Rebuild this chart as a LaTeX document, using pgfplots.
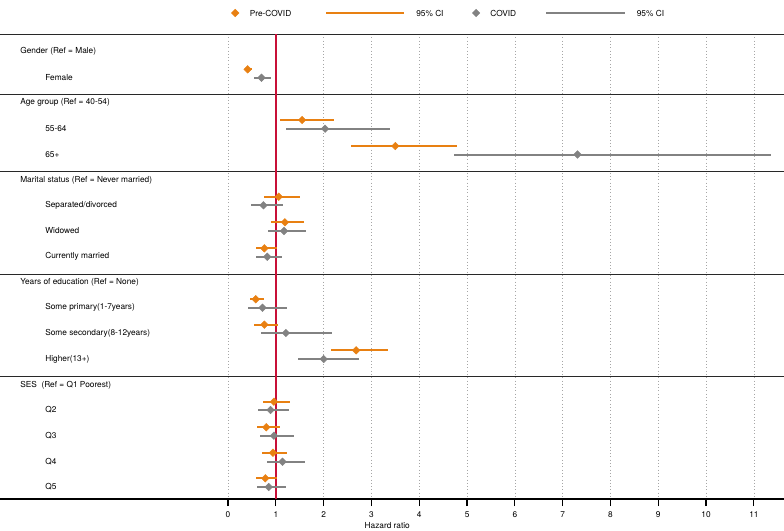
\documentclass[border=0pt]{standalone}
\usepackage{fontspec}
\setmainfont{TeX Gyre Heros}
\usepackage{pgfplots}
\pgfplotsset{compat=1.18}
\usepackage{pgfplotstable}

\definecolor{precol}{RGB}{232,128,18}
\definecolor{covcol}{RGB}{130,130,130}
\definecolor{refcol}{RGB}{200,16,56}
\definecolor{sepcol}{RGB}{40,40,40}

% row position (top-down), estimate, lower and upper 95% CI
\pgfplotstableread{
y     est  lo   hi
69.3  0.41 0.36 0.51
120.0 1.55 1.09 2.21
146.0 3.50 2.57 4.79
196.7 1.06 0.76 1.51
222.3 1.19 0.90 1.59
248.3 0.76 0.58 1.03
299.3 0.58 0.45 0.76
324.7 0.76 0.55 1.05
350.3 2.68 2.15 3.34
401.7 0.96 0.73 1.29
427.3 0.80 0.60 1.08
452.7 0.94 0.71 1.24
478.3 0.78 0.59 1.03
}\tblpre

\pgfplotstableread{
y     est  lo   hi
77.7  0.70 0.55 0.90
128.7 2.03 1.22 3.38
154.5 7.31 4.72 11.36
205.3 0.74 0.48 1.15
231.0 1.17 0.84 1.63
256.7 0.82 0.59 1.13
307.7 0.72 0.42 1.23
333.0 1.21 0.69 2.17
359.0 2.00 1.47 2.74
410.0 0.89 0.62 1.27
435.7 0.96 0.67 1.38
461.7 1.14 0.82 1.60
487.0 0.85 0.60 1.21
}\tblcov

\newcommand{\lblfont}{\fontsize{8.3}{10}\selectfont}
\pgfplotsset{
  dmark/.style={only marks, mark=square*, mark size=2.7pt,
    mark options={rotate=45, fill=#1, draw=#1}},
}

\begin{document}
\begin{tikzpicture}
\begin{axis}[
  name=ax,
  scale only axis,
  width=784pt, height=465pt,
  xmin=-4.77, xmax=11.63,
  ymin=34, ymax=499,
  y dir=reverse,
  clip=false,
  axis x line=bottom,
  axis y line=none,
  axis line style={-, black, line width=1.1pt},
  xtick={0,...,11},
  tick align=outside,
  major tick length=7pt,
  x tick style={black, line width=1.2pt},
  xticklabel style={font=\lblfont, yshift=-2.5pt},
  /pgf/number format/assume math mode=true,
  xmajorgrids,
  grid style={gray!70, line width=0.6pt, dash pattern=on 0.7pt off 2.6pt},
]

% group separators
\addplot[sepcol, line width=0.9pt, forget plot] coordinates {(-4.77,34) (11.63,34)};
\addplot[sepcol, line width=0.9pt, forget plot] coordinates {(-4.77,94) (11.63,94)};
\addplot[sepcol, line width=0.9pt, forget plot] coordinates {(-4.77,171) (11.63,171)};
\addplot[sepcol, line width=0.9pt, forget plot] coordinates {(-4.77,274) (11.63,274)};
\addplot[sepcol, line width=0.9pt, forget plot] coordinates {(-4.77,376) (11.63,376)};

% line of no effect
\addplot[refcol, line width=1.8pt, forget plot] coordinates {(1,34) (1,499)};

% estimates with confidence intervals
\addplot[precol, dmark=precol,
  error bars/.cd, x dir=both, x explicit, error mark=none,
  error bar style={line width=2pt, precol}]
  table[x=est, y=y,
        x error plus expr=\thisrow{hi}-\thisrow{est},
        x error minus expr=\thisrow{est}-\thisrow{lo}] {\tblpre};

\addplot[covcol, dmark=covcol,
  error bars/.cd, x dir=both, x explicit, error mark=none,
  error bar style={line width=2pt, covcol}]
  table[x=est, y=y,
        x error plus expr=\thisrow{hi}-\thisrow{est},
        x error minus expr=\thisrow{est}-\thisrow{lo}] {\tblcov};

% row labels
\begin{scope}[every node/.style={anchor=west, inner sep=0pt, font=\lblfont}]
\node at (axis cs:-4.349,51.7)  {Gender (Ref = Male)};
\node at (axis cs:-3.826,77.7)  {Female};
\node at (axis cs:-4.349,102.7) {Age group (Ref = 40-54)};
\node at (axis cs:-3.826,128.7) {55-64};
\node at (axis cs:-3.826,154.5) {65+};
\node at (axis cs:-4.349,180.0) {Marital status (Ref = Never married)};
\node at (axis cs:-3.826,205.3) {Separated/divorced};
\node at (axis cs:-3.826,231.0) {Widowed};
\node at (axis cs:-3.826,256.7) {Currently married};
\node at (axis cs:-4.349,282.3) {Years of education (Ref = None)};
\node at (axis cs:-3.826,307.7) {Some primary(1-7years)};
\node at (axis cs:-3.826,333.0) {Some secondary(8-12years)};
\node at (axis cs:-3.826,359.0) {Higher(13+)};
\node at (axis cs:-4.349,385.0) {SES\ \ (Ref = Q1 Poorest)};
\node at (axis cs:-3.826,410.0) {Q2};
\node at (axis cs:-3.826,435.7) {Q3};
\node at (axis cs:-3.826,461.7) {Q4};
\node at (axis cs:-3.826,487.0) {Q5};

% legend
\node at (axis cs:0.452,13) {Pre-COVID};
\node at (axis cs:3.935,13) {95\% CI};
\node at (axis cs:5.483,13) {COVID};
\node at (axis cs:8.548,13) {95\% CI};
\end{scope}
\addplot[precol, dmark=precol, forget plot] coordinates {(0.149,13)};
\addplot[covcol, dmark=covcol, forget plot] coordinates {(5.19,13)};
\addplot[precol, line width=2pt, forget plot] coordinates {(2.052,13) (3.684,13)};
\addplot[covcol, line width=2pt, forget plot] coordinates {(6.655,13) (8.307,13)};

\node[font=\lblfont, inner sep=0pt, anchor=base] at (axis cs:3.33,528) {Hazard ratio};
\end{axis}
\pgfresetboundingbox
\path[use as bounding box] (ax.south west) ++(0,-31pt) rectangle ([yshift=34pt]ax.north east);
\end{tikzpicture}
\end{document}
